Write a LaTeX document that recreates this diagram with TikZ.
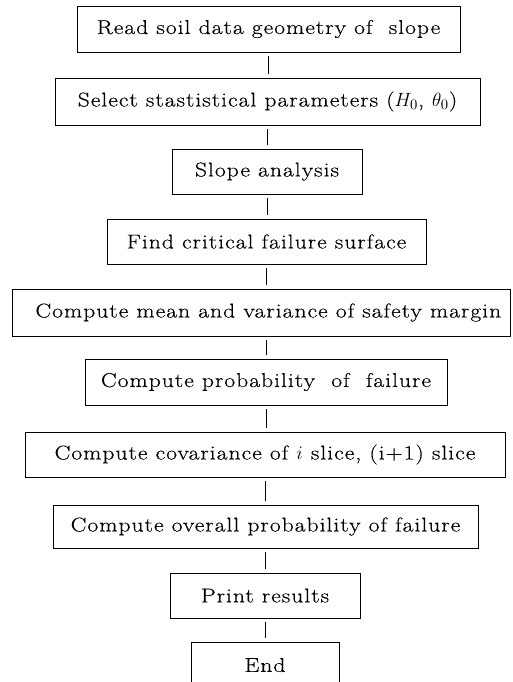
\documentclass[tikz,border=0pt]{standalone}
\usepackage{fontspec}
\setmainfont{Latin Modern Roman}[FakeStretch=1.18, LetterSpace=5, FakeBold=0.3]
\begin{document}
\begin{tikzpicture}[x=0.75pt,y=-0.75pt,
  stepbox/.style={draw, line width=0.6pt, inner sep=0pt, font=\fontsize{15}{18}\selectfont},
  conn/.style={line width=0.6pt, shorten <=3pt, shorten >=3pt}]
\useasboundingbox (0,0) rectangle (512,682);
\node[stepbox, minimum width=383*0.75pt, minimum height=46*0.75pt] (b1) at (268.5,29) {Read soil data geometry of \ slope};
\node[stepbox, minimum width=425*0.75pt, minimum height=47*0.75pt] (b2) at (267.5,101.5) {Select stastistical parameters ($H_{0}$, $\theta_{0}$)};
\node[stepbox, minimum width=190*0.75pt, minimum height=45*0.75pt] (b3) at (267,171.5) {Slope analysis};
\node[stepbox, minimum width=319*0.75pt, minimum height=45*0.75pt] (b4) at (266.5,241.5) {Find critical failure surface};
\node[stepbox, minimum width=498*0.75pt, minimum height=47*0.75pt] (b5) at (261,312.5) {\hspace*{11pt}Compute mean and variance of safety margin};
\node[stepbox, minimum width=362*0.75pt, minimum height=46*0.75pt] (b6) at (266,382) {Compute probability \ of \ failure};
\node[stepbox, minimum width=480*0.75pt, minimum height=45*0.75pt] (b7) at (265,454.5) {Compute covariance of $i$ slice, (i+1) slice};
\node[stepbox, minimum width=425*0.75pt, minimum height=43*0.75pt] (b8) at (265.5,526.5) {Compute overall probability of failure};
\node[stepbox, minimum width=190*0.75pt, minimum height=45*0.75pt] (b9) at (265,595.5) {Print results};
\node[stepbox, minimum width=148*0.75pt, minimum height=46*0.75pt] (b10) at (265,665) {End};
\draw[conn] (b1.south) -- (b1.south |- b2.north);
\draw[conn] (b2.south) -- (b2.south |- b3.north);
\draw[conn] (b3.south) -- (b3.south |- b4.north);
\draw[conn] (b4.south) -- (b4.south |- b5.north);
\draw[conn] (b6.north |- b5.south) -- (b6.north);
\draw[conn] (b6.south) -- (b6.south |- b7.north);
\draw[conn] (b7.south) -- (b7.south |- b8.north);
\draw[conn] (b8.south) -- (b8.south |- b9.north);
\draw[conn] (b9.south) -- (b9.south |- b10.north);
\end{tikzpicture}
\end{document}
